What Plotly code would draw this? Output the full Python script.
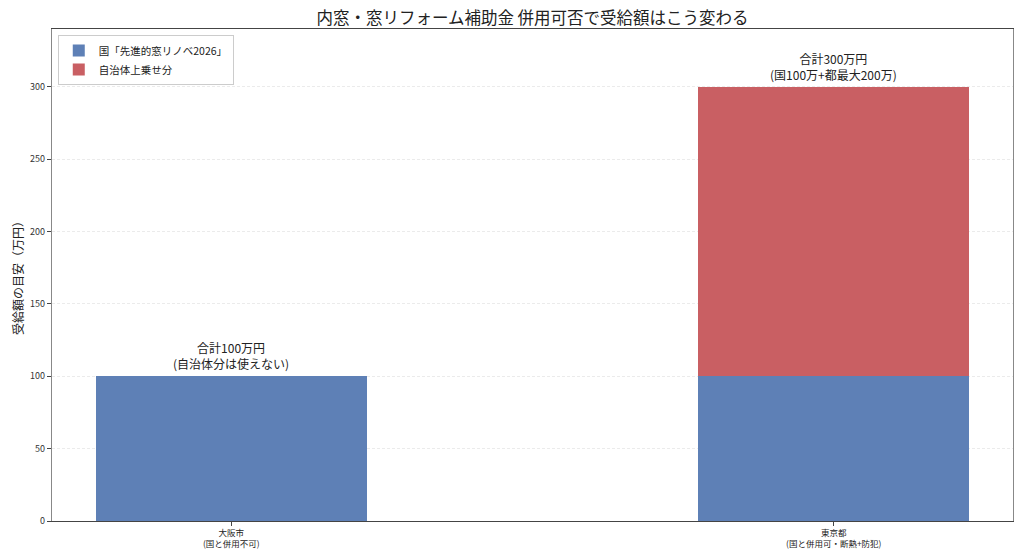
import plotly.graph_objects as go

# 自治体ごとの受給額の目安（万円）
cities = ['大阪市<br>(国と併用不可)', '東京都<br>(国と併用可・断熱+防犯)']
national = [100, 100]
local = [0, 200]
notes = ['合計100万円<br>(自治体分は使えない)', '合計300万円<br>(国100万+都最大200万)']
yticks = [0, 50, 100, 150, 200, 250, 300]

font = 'Noto Sans CJK JP, Noto Sans, sans-serif'

fig = go.Figure()
fig.add_trace(go.Bar(x=cities, y=national, name='国「先進的窓リノベ2026」',
                     marker=dict(color='#5e80b6', line=dict(width=0)), width=0.45))
fig.add_trace(go.Bar(x=cities, y=local, name='自治体上乗せ分',
                     marker=dict(color='#c95f63', line=dict(width=0)), width=0.45))

for c, n, l, note in zip(cities, national, local, notes):
    fig.add_annotation(x=c, y=n + l, text=note, showarrow=False, yanchor='bottom',
                       yshift=2, font=dict(size=12, color='#222'))

fig.update_layout(
    barmode='stack',
    width=1024, height=559,
    margin=dict(l=52, r=11, t=29, b=38),
    paper_bgcolor='white', plot_bgcolor='white',
    font=dict(family=font, color='#333'),
    title=dict(text='内窓・窓リフォーム補助金 併用可否で受給額はこう変わる', x=0.5, xref='paper',
               xanchor='center', y=0.968, yanchor='middle', font=dict(size=16.5, color='#222')),
    legend=dict(x=0.006, y=0.988, xanchor='left', yanchor='top', bgcolor='rgba(255,255,255,0.8)',
                bordercolor='#ccc', borderwidth=1, font=dict(size=10.5, color='#222'),
                traceorder='normal', itemwidth=30, tracegroupgap=0),
    showlegend=True,
)
fig.update_xaxes(range=[-0.2975, 1.2975], showline=True, linecolor='#444', linewidth=1.2,
                 mirror=True, ticks='outside', ticklen=4, tickcolor='#444', automargin=False,
                 tickfont=dict(size=8.5, color='#222'), showgrid=False)
fig.update_yaxes(range=[0, 340], tickvals=yticks, showline=True, linecolor='#888', linewidth=1.2,
                 mirror=True, ticks='outside', ticklen=4, tickcolor='#444', automargin=False,
                 tickfont=dict(size=9, color='#333'), showgrid=True, gridcolor='#ebebeb',
                 griddash='3px,2px', gridwidth=0.8, zeroline=False,
                 title=dict(text='受給額の目安（万円）', font=dict(size=12, color='#222'), standoff=3))

# ページ余白をなくして図を左上に合わせる
fig.write_html('out.html', config={'displayModeBar': False},
               post_script="document.body.style.margin='0';")
